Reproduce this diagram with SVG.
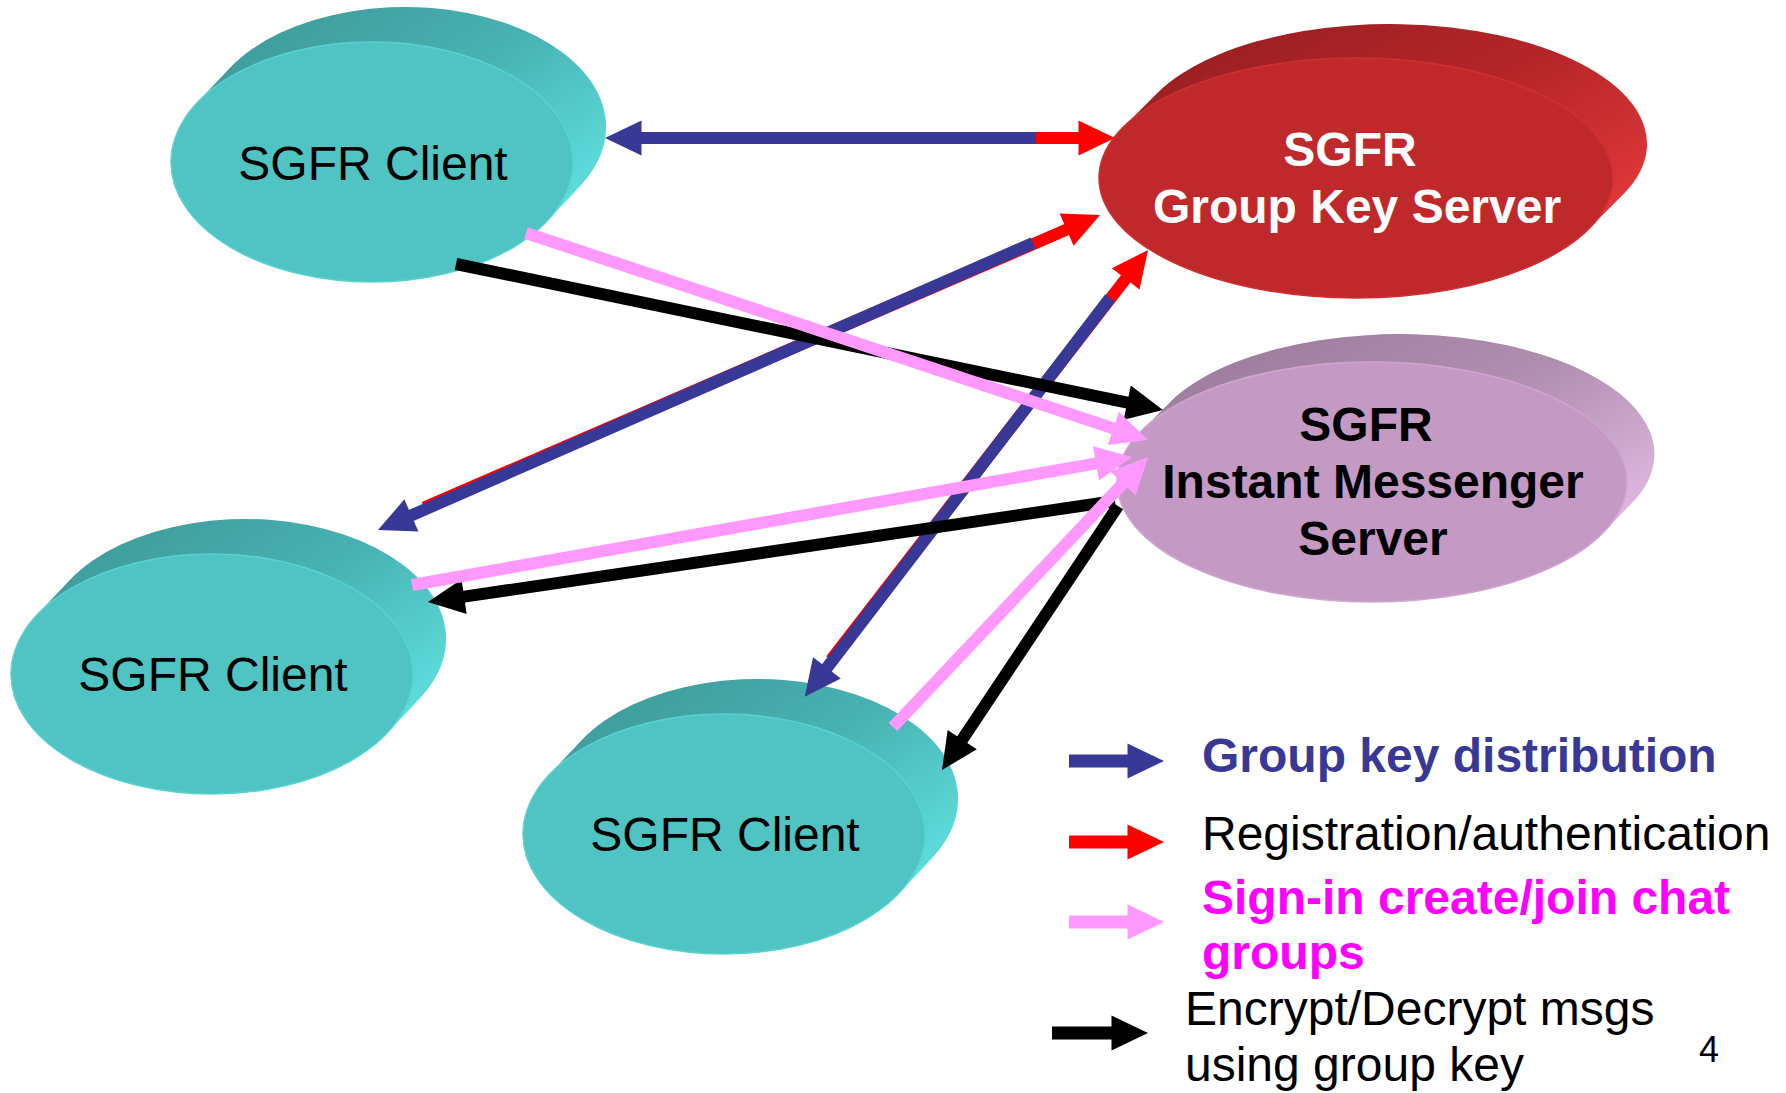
<svg xmlns="http://www.w3.org/2000/svg" width="1786" height="1093" viewBox="0 0 1786 1093">
<style>
.reg{font-family:"Liberation Sans",Arial,sans-serif;font-size:48px;}
.bold{font-family:"Liberation Sans",Arial,sans-serif;font-size:48px;font-weight:bold;}
.c{stroke-linecap:butt;fill:none;}
</style>
<defs>
<linearGradient id="gCyan" x1="0.15" y1="0" x2="0.95" y2="0.75">
<stop offset="0" stop-color="#3e9898"/>
<stop offset="0.5" stop-color="#48b2b2"/>
<stop offset="1" stop-color="#60e2e2"/>
</linearGradient>
<linearGradient id="gRed" x1="0.15" y1="0" x2="0.95" y2="0.75">
<stop offset="0" stop-color="#981e22"/>
<stop offset="0.5" stop-color="#b42528"/>
<stop offset="1" stop-color="#e5393b"/>
</linearGradient>
<linearGradient id="gPur" x1="0.15" y1="0" x2="0.95" y2="0.75">
<stop offset="0" stop-color="#9c7a9c"/>
<stop offset="0.5" stop-color="#b08eb0"/>
<stop offset="1" stop-color="#e4bce4"/>
</linearGradient>
<marker id="hB" markerUnits="userSpaceOnUse" markerWidth="37" markerHeight="35" viewBox="-1.5 0 36.5 35" refX="0" refY="17.5" orient="auto" overflow="visible"><path d="M-1.5,0 L35,17.5 L-1.5,35 Z" fill="#383896"/></marker>
<marker id="hR" markerUnits="userSpaceOnUse" markerWidth="37" markerHeight="35" viewBox="-1.5 0 36.5 35" refX="0" refY="17.5" orient="auto" overflow="visible"><path d="M-1.5,0 L35,17.5 L-1.5,35 Z" fill="#ff0000"/></marker>
<marker id="hP" markerUnits="userSpaceOnUse" markerWidth="37" markerHeight="35" viewBox="-1.5 0 36.5 35" refX="0" refY="17.5" orient="auto" overflow="visible"><path d="M-1.5,0 L35,17.5 L-1.5,35 Z" fill="#ff99ff"/></marker>
<marker id="hK" markerUnits="userSpaceOnUse" markerWidth="37" markerHeight="35" viewBox="-1.5 0 36.5 35" refX="0" refY="17.5" orient="auto" overflow="visible"><path d="M-1.5,0 L35,17.5 L-1.5,35 Z" fill="#000000"/></marker>
<path id="clientSide" d="M-175.2,-58.9 L-142.2,-93.9 A201,120 0 0 1 208.2,23.9 L175.2,58.9 A201,120 0 0 1 -175.2,-58.9 Z"/>
</defs>
<rect width="1786" height="1093" fill="#ffffff"/>

<g id="client1" transform="translate(372,162)">
<use href="#clientSide" fill="url(#gCyan)"/>
<ellipse cx="0" cy="0" rx="201" ry="120" fill="#50c3c3" stroke="#58d2d2" stroke-width="1.5"/>
<text x="1" y="18" class="reg" text-anchor="middle" fill="#000">SGFR Client</text>
</g>

<g id="client2" transform="translate(212,674)">
<use href="#clientSide" fill="url(#gCyan)"/>
<ellipse cx="0" cy="0" rx="201" ry="120" fill="#50c3c3" stroke="#58d2d2" stroke-width="1.5"/>
<text x="1" y="17" class="reg" text-anchor="middle" fill="#000">SGFR Client</text>
</g>

<g id="client3" transform="translate(724,834)">
<use href="#clientSide" fill="url(#gCyan)"/>
<ellipse cx="0" cy="0" rx="201" ry="120" fill="#50c3c3" stroke="#58d2d2" stroke-width="1.5"/>
<text x="1" y="17" class="reg" text-anchor="middle" fill="#000">SGFR Client</text>
</g>

<g id="gks" transform="translate(1356,178)">
<path d="M-232.9,-50.8 L-198.9,-84.8 A257,120 0 0 1 266.9,16.8 L232.9,50.8 A257,120 0 0 1 -232.9,-50.8 Z" fill="url(#gRed)"/>
<ellipse cx="0" cy="0" rx="257" ry="120" fill="#c0292b" stroke="#d03133" stroke-width="1.5"/>
<text x="-6" y="-12" class="bold" text-anchor="middle" fill="#ffffff">SGFR</text>
<text x="1" y="45" class="bold" text-anchor="middle" fill="#ffffff">Group Key Server</text>
</g>

<g id="imserver" transform="translate(1372,482)">
<path d="M-230.7,-51.1 L-196.7,-85.1 A255,120 0 0 1 264.7,16.1 L230.7,51.1 A255,120 0 0 1 -230.7,-51.1 Z" fill="url(#gPur)"/>
<ellipse cx="0" cy="0" rx="255" ry="120" fill="#c49ac4" stroke="#cfa6cf" stroke-width="1.5"/>
<text x="-6" y="-41" class="bold" text-anchor="middle" fill="#000">SGFR</text>
<text x="1" y="16" class="bold" text-anchor="middle" fill="#000">Instant Messenger</text>
<text x="1" y="73" class="bold" text-anchor="middle" fill="#000">Server</text>
</g>

<g id="connectors" class="c" stroke-width="12">
<line x1="1000" y1="138" x2="1080" y2="138" stroke="#ff0000" marker-end="url(#hR)"/>
<line x1="1036" y1="138" x2="640" y2="138" stroke="#383896" marker-end="url(#hB)"/>
<line x1="424" y1="507.5" x2="1068" y2="229" stroke="#ff0000" marker-end="url(#hR)"/>
<line x1="1033" y1="243" x2="410" y2="516" stroke="#383896" marker-end="url(#hB)"/>
<line x1="831" y1="660" x2="1126.6" y2="277.7" stroke="#ff0000" marker-end="url(#hR)"/>
<line x1="1110" y1="298" x2="826" y2="669" stroke="#383896" marker-end="url(#hB)"/>
<line x1="456" y1="264" x2="1128.7" y2="402.9" stroke="#000000" marker-end="url(#hK)"/>
<line x1="1115" y1="501" x2="462.6" y2="596.9" stroke="#000000" marker-end="url(#hK)"/>
<line x1="1118" y1="506" x2="961.4" y2="740.9" stroke="#000000" marker-end="url(#hK)"/>
<line x1="526" y1="233" x2="1114.8" y2="428.9" stroke="#ff99ff" marker-end="url(#hP)"/>
<line x1="412" y1="585" x2="1097.5" y2="463.1" stroke="#ff99ff" marker-end="url(#hP)"/>
<line x1="893" y1="727" x2="1124" y2="482.4" stroke="#ff99ff" marker-end="url(#hP)"/>
</g>

<g id="legend">
<g class="c" stroke-width="13">
<line x1="1069" y1="761" x2="1129" y2="761" stroke="#383896" marker-end="url(#hB)"/>
<line x1="1069" y1="842" x2="1129" y2="842" stroke="#ff0000" marker-end="url(#hR)"/>
<line x1="1069" y1="922" x2="1129" y2="922" stroke="#ff99ff" marker-end="url(#hP)"/>
<line x1="1052" y1="1033" x2="1113" y2="1033" stroke="#000000" marker-end="url(#hK)"/>
</g>
<text x="1202" y="772" class="bold" fill="#383896">Group key distribution</text>
<text x="1202" y="850" class="reg" fill="#000">Registration/authentication</text>
<text x="1202" y="914" class="bold" fill="#ff00ff">Sign-in create/join chat</text>
<text x="1202" y="969" class="bold" fill="#ff00ff">groups</text>
<text x="1185" y="1025" class="reg" fill="#000">Encrypt/Decrypt msgs</text>
<text x="1185" y="1081" class="reg" fill="#000">using group key</text>
</g>
<text x="1699" y="1062" font-family="Liberation Sans, Arial, sans-serif" font-size="36" fill="#000">4</text>
</svg>
